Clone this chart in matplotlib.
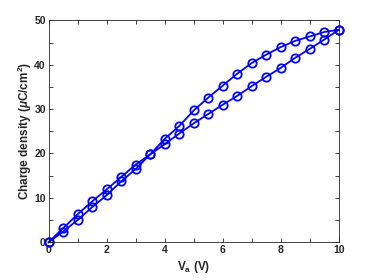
import matplotlib
matplotlib.use("Agg")
import matplotlib.pyplot as plt
from matplotlib.ticker import MultipleLocator

va = [0, 0.5, 1, 1.5, 2, 2.5, 3, 3.5, 4, 4.5, 5, 5.5, 6, 6.5, 7, 7.5, 8, 8.5, 9, 9.5, 10]
branch_a = [0, 3.15, 6.3, 9.2, 11.9, 14.7, 17.5, 19.8, 22.1, 24.5, 26.8, 28.9, 31.0,
            33.0, 35.2, 37.3, 39.3, 41.6, 43.6, 45.7, 47.9]
branch_b = [0, 2.4, 5.0, 7.9, 10.6, 13.7, 16.5, 19.8, 23.3, 26.2, 29.7, 32.6, 35.3,
            38.0, 40.4, 42.3, 44.0, 45.4, 46.4, 47.4, 47.9]
xticks = [0, 2, 4, 6, 8, 10]
yticks = [0, 10, 20, 30, 40, 50]

plt.rcParams['font.family'] = ['Liberation Sans', 'DejaVu Sans']
plt.rcParams['mathtext.fontset'] = 'custom'
plt.rcParams['mathtext.rm'] = 'Liberation Sans:bold'
plt.rcParams['mathtext.it'] = 'Liberation Sans:bold:italic'
plt.rcParams['mathtext.bf'] = 'Liberation Sans:bold'

fig = plt.figure(figsize=(3.74, 2.8), dpi=100)
ax = fig.add_axes([0.130, 0.135, 0.776, 0.792])
col = (0, 0, 1)
for y in (branch_a, branch_b):
    ax.plot(va, y, '-o', color=col, lw=1.3, ms=6, mfc='none', mew=1.3, clip_on=False)

ax.set_xlim(0, 10)
ax.set_ylim(0, 50)
ax.set_xticks(xticks)
ax.set_yticks(yticks)
ax.xaxis.set_minor_locator(MultipleLocator(1))
ax.yaxis.set_minor_locator(MultipleLocator(5))
dark = (0.15, 0.15, 0.15)
ax.tick_params(which='both', direction='in', top=True, right=True, color=dark,
               labelcolor=dark, labelsize=7.5, width=0.6, pad=2)
ax.tick_params(which='major', length=3)
ax.tick_params(which='minor', length=3)
for lab in ax.get_xticklabels() + ax.get_yticklabels():
    lab.set_fontweight('bold')
for s in ax.spines.values():
    s.set_color(dark)
    s.set_linewidth(0.6)
ax.set_xlabel(r'V$_\mathrm{a}$ (V)', fontsize=8.5, fontweight='bold', color=dark, labelpad=3)
ax.set_ylabel(r'Charge density ($\mu$C/cm$^\mathrm{2}$)', fontsize=8.5, fontweight='bold',
              color=dark, labelpad=0)
fig.savefig('out.png', dpi=100)
